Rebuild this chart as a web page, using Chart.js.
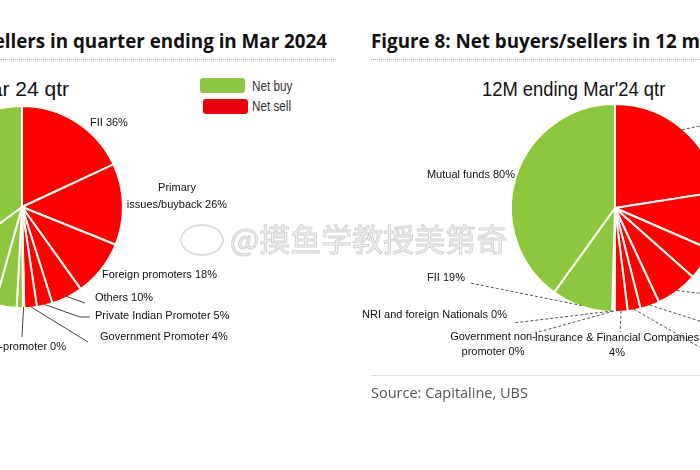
<!DOCTYPE html>
<html>
<head>
<meta charset="utf-8">
<script src="https://cdn.jsdelivr.net/npm/chart.js@4.4.0/dist/chart.umd.min.js"></script>
<style>
    html, body { margin: 0; padding: 0; }
    body { width: 700px; height: 470px; overflow: hidden; position: relative; background: #fff; font-family: 'Open Sans', sans-serif; color: #111; }
    .txt { position: absolute; white-space: nowrap; }
    .fig { font-family: 'Open Sans', sans-serif; font-weight: bold; font-size: 18.8px; top: 28px; }
    .sub { font-family: 'Liberation Sans', Arial, sans-serif; font-size: 21px; top: 77px; }
    .rule { position: absolute; height: 0; border-top: 1px dotted #aaa; top: 59px; }
    canvas { position: absolute; }
    .key { position: absolute; width: 45px; height: 15px; border-radius: 3px; }
    .keytxt { font-family: 'Liberation Sans', sans-serif; font-size: 15px; color: #333; left: 252px; transform: scaleX(0.78); transform-origin: left center; }
    .mark { position: absolute; left: 230px; top: 215px; font-family: 'Noto Sans CJK SC', sans-serif; font-size: 31px; color: #f2f2f2; -webkit-text-stroke: 1px #d2d2d2; z-index: 5; white-space: nowrap; }
    .logo { position: absolute; left: 180px; top: 224px; width: 40px; height: 28px; border: 2px solid #dcdcdc; border-radius: 50%; z-index: 5; }
</style>
</head>
<body>

<div class="txt fig" style="right:373px">Figure 7: Net buyers/sellers in quarter ending in Mar 2024</div>
<div class="rule" style="left:0; width:336px"></div>
<div class="txt fig" style="left:371px">Figure 8: Net buyers/sellers in 12 months ending in Mar 2024</div>
<div class="rule" style="left:371px; width:329px"></div>

<div class="txt sub" style="right:631px">Mar 24 qtr</div>
<div class="txt sub" style="left:482px; transform: scaleX(0.875); transform-origin: left center">12M ending Mar'24 qtr</div>

<div class="key" style="left:200px; top:78px; background:#8dc63f"></div>
<div class="key" style="left:203px; top:99px; background:#e8000b"></div>
<div class="txt keytxt" style="top:77px">Net buy</div>
<div class="txt keytxt" style="top:97px">Net sell</div>

<canvas id="chart-qtr" width="480" height="300" style="left:-218px; top:77px"></canvas>
<canvas id="chart-12m" width="520" height="300" style="left:355px; top:78px"></canvas>

<div class="rule" style="left:371px; width:329px; top:375px; border-top:1px solid #ddd"></div>
<div class="txt" style="left:371px; top:383px; font-size:14.5px; color:#555">Source: Capitaline, UBS</div>

<div class="logo"></div>
<div class="mark">@摸鱼学教授美第奇</div>

<script>
const GREEN = '#8dc63f'
const RED = '#ff0000'

// quarter ending Mar 2024 (share of net sell / net buy side, %)
const qtrLabels = ['FII', ['Primary', 'issues/buyback'], 'Foreign promoters', 'Others', 'Private Indian Promoter', 'Government Promoter',
    'Government non-promoter', 'NRI and foreign Nationals', 'Insurance & Financial Companies', 'Retail', 'Mutual funds']
const qtrValues = [36, 26, 18, 10, 5, 4, 0.4, 2, 7, 21, 70]
const qtrSides = ['sell', 'sell', 'sell', 'sell', 'sell', 'sell', 'buy', 'buy', 'buy', 'buy', 'buy']

// 12 months ending Mar 2024
const yrLabels = ['Primary issues/buyback', 'Private Indian Promoter', 'Foreign promoters', 'Retail', 'Others', 'Government Promoter',
    ['Insurance & Financial Companies', ''], ['Government non-', 'promoter'], 'NRI and foreign Nationals', 'FII', 'Mutual funds']
const yrValues = [45, 18, 10, 13, 6, 4, 4, 0.4, 0.4, 19, 80]
const yrSides = ['sell', 'sell', 'sell', 'sell', 'sell', 'sell', 'sell', 'buy', 'buy', 'buy', 'buy']


// where each callout sits, relative to the pie centre
const qtrSpots = [
    { x: 68, y: -84, align: 'left' },
    { x: 155, y: -19, align: 'center', lh: 17 },
    { x: 80, y: 68, align: 'left' },
    { x: 73, y: 91, align: 'left', line: [[63, 96]] },
    { x: 73, y: 109, align: 'left', line: [[58, 110], [68, 110]] },
    { x: 78, y: 130, align: 'left', line: [[66, 135]] },
    { x: 44, y: 140, align: 'right', line: [[0, 130]] },
    null, null, null, null
]

const yrSpots = [
    { x: 100, y: -84, align: 'left', line: [[95, -84]] },
    { x: 110, y: 15, align: 'left' },
    { x: 110, y: 60, align: 'left' },
    { x: 104, y: 87, align: 'left', line: [[100, 87]] },
    { x: 104, y: 118, align: 'left', line: [[100, 118]] },
    { x: 104, y: 148, align: 'left', line: [[100, 148]] },
    { x: 2, y: 130, align: 'center', lh: 15, line: [[5, 124]] },
    { x: -122, y: 129, align: 'center', lh: 15, line: [[-80, 125]] },
    { x: -108, y: 107, align: 'right', line: [[-102, 115]] },
    { x: -150, y: 70, align: 'right', line: [[-145, 75]] },
    { x: -100, y: -33, align: 'right' }
]


function makeCallouts(spots, lineColor, dash) {
    return {
        id: 'callouts',
        afterDatasetsDraw(chart) {
            const ctx = chart.ctx
            const arcs = chart.getDatasetMeta(0).data
            const labels = chart.data.labels
            const values = chart.data.datasets[0].data
            ctx.save()
            ctx.font = '11px "Liberation Sans", Arial, sans-serif'
            ctx.fillStyle = '#111'
            ctx.textBaseline = 'middle'
            arcs.forEach((arc, i) => {
                const spot = spots[i]
                if (!spot) return
                const { x, y, startAngle, endAngle, outerRadius } = arc.getProps(['x', 'y', 'startAngle', 'endAngle', 'outerRadius'], true)
                const mid = (startAngle + endAngle) / 2
                if (spot.line) {
                    ctx.beginPath()
                    ctx.moveTo(x + Math.cos(mid) * (outerRadius - 1), y + Math.sin(mid) * (outerRadius - 1))
                    spot.line.forEach(p => ctx.lineTo(x + p[0], y + p[1]))
                    ctx.strokeStyle = lineColor
                    ctx.lineWidth = 1
                    ctx.setLineDash(dash)
                    ctx.stroke()
                    ctx.setLineDash([])
                }
                const lines = [].concat(labels[i])
                const last = lines.length - 1
                lines[last] = (lines[last] + ' ' + Math.round(values[i]) + '%').trim()
                ctx.textAlign = spot.align
                lines.forEach((t, k) => ctx.fillText(t, x + spot.x, y + spot.y + k * (spot.lh || 14)))
            })
            ctx.restore()
        }
    }
}


function printPie(id, labels, values, sides, spots, padTop, padBottom, lineColor, dash) {

    let data = {
        labels,
        datasets: [{
            data: values,
            backgroundColor: sides.map(s => s === 'buy' ? GREEN : RED),
            borderColor: '#fffdf5',
            borderWidth: 2,
            hoverOffset: 0
        }]
    }

    let options = {
        responsive: false,
        animation: false,
        events: [],
        layout: {
            padding: { top: padTop, bottom: padBottom }
        },
        plugins: {
            legend: { display: false },
            tooltip: { enabled: false }
        }
    }

    new Chart(id, { type: 'pie', data, options, plugins: [makeCallouts(spots, lineColor, dash)] })
}

printPie('chart-qtr', qtrLabels, qtrValues, qtrSides, qtrSpots, 28, 68, '#444', [])
printPie('chart-12m', yrLabels, yrValues, yrSides, yrSpots, 25, 65, '#555', [3, 2])
</script>
</body>
</html>
